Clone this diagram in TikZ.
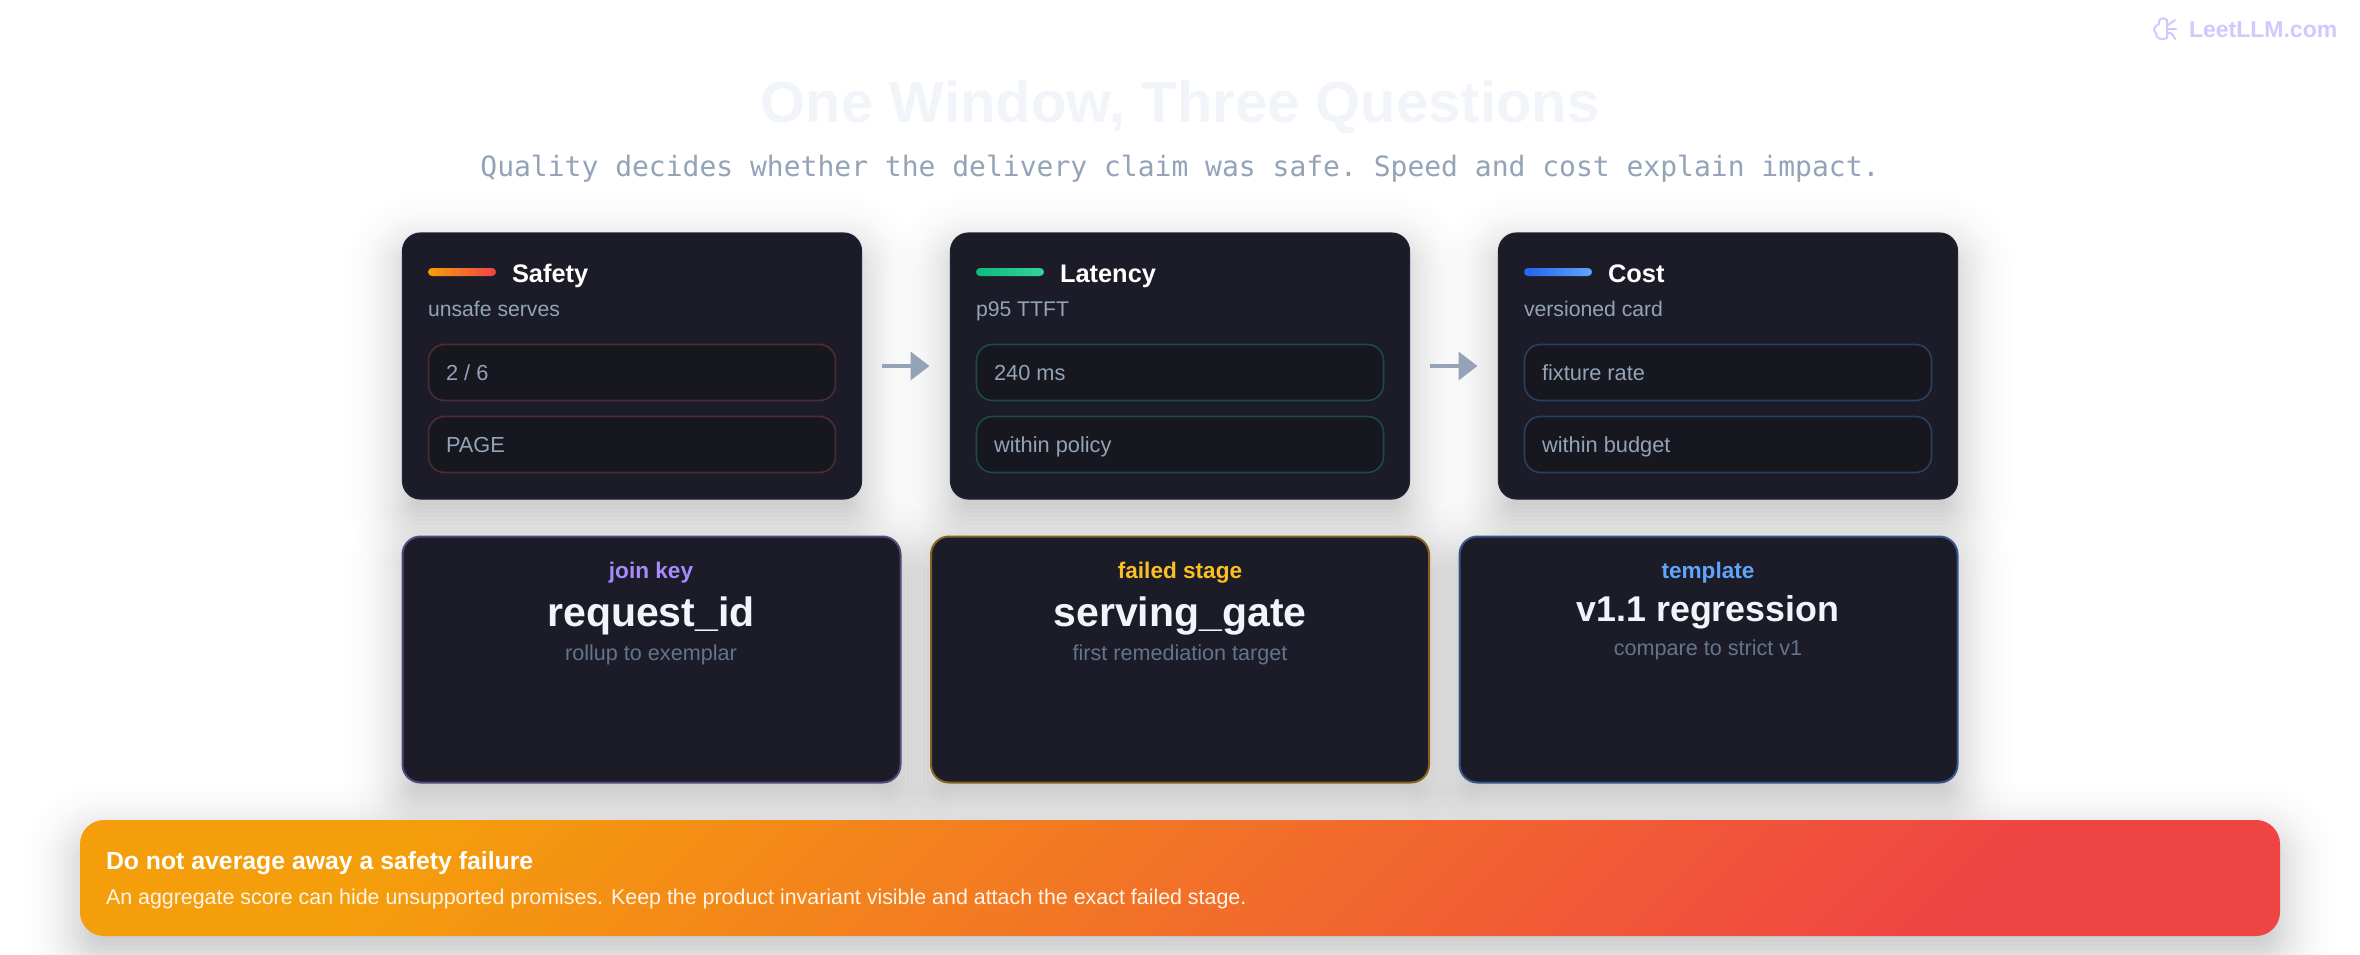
\documentclass[tikz,border=0pt]{standalone}
\usepackage{fontspec}
\setmainfont{Liberation Sans}
\setmonofont{DejaVu Sans Mono}
\usetikzlibrary{calc,backgrounds,arrows.meta}

\definecolor{cardbg}{HTML}{1B1C27}
\definecolor{cardline}{HTML}{1C2536}
\definecolor{pillbg}{HTML}{16171F}
\definecolor{muted}{HTML}{94A3B8}
\definecolor{dimmed}{HTML}{64748B}
\definecolor{titlegrey}{HTML}{F1F5F9}
\definecolor{logopurple}{HTML}{D2C8FE}
\definecolor{amber}{HTML}{F59E0B}
\definecolor{alarm}{HTML}{EF4444}
\definecolor{emerald}{HTML}{10B981}
\definecolor{mint}{HTML}{34D399}
\definecolor{royal}{HTML}{2563EB}
\definecolor{sky}{HTML}{60A5FA}
\definecolor{lilac}{HTML}{A78BFA}
\definecolor{gold}{HTML}{FBBF24}
\definecolor{redline}{HTML}{4F2C33}
\definecolor{greenline}{HTML}{1E4A42}
\definecolor{blueline}{HTML}{2A3F5F}
\definecolor{lilacline}{HTML}{55467F}
\definecolor{goldline}{HTML}{85631F}
\definecolor{skyline}{HTML}{36568A}

\newcommand{\softshadow}[2]{%
  \begin{pgfonlayer}{background}
  \foreach \g in {-68,-64,...,68}{
    \pgfmathsetmacro{\shr}{max(1,#2+\g/2)}
    \pgfmathsetmacro{\sho}{.0148*exp(-(\g/28)*(\g/28)/2)}
    \fill[black,opacity=\sho,rounded corners=\shr pt] ($(#1.north west)+(-\g,-\g+18)$) rectangle ($(#1.south east)+(\g,\g+18)$);
  }
  \end{pgfonlayer}}

\begin{document}
\begin{tikzpicture}[x=.5pt,y=-.5pt,>=Stealth]
\tikzset{
	metric card/.style={rectangle,draw=cardline,fill=cardbg,line width=.6pt,rounded corners=9pt,minimum width=229.5pt,minimum height=133pt,outer sep=0,inner sep=0},
	id card/.style={rectangle,fill=cardbg,line width=1pt,rounded corners=9pt,minimum width=249pt,minimum height=123pt,outer sep=0,inner sep=0},
	value pill/.style={rectangle,fill=pillbg,line width=.8pt,rounded corners=8pt,minimum width=203.5pt,minimum height=28pt,outer sep=0,inner sep=0},
	accent bar/.style={rectangle,rounded corners=2pt,minimum width=34pt,minimum height=4pt,outer sep=0,inner sep=0},
	plain text/.style={inner sep=0,outer sep=0,anchor=base west},
	mid text/.style={inner sep=0,outer sep=0,anchor=base},
	card title/.style={plain text,text=white,font=\fontsize{12.7}{14}\selectfont\bfseries},
	card note/.style={plain text,text=muted,font=\fontsize{10.6}{12}\selectfont},
	pill text/.style={plain text,text=muted,font=\fontsize{10.9}{12}\selectfont},
	id label/.style={mid text,font=\fontsize{11.3}{12}\selectfont\bfseries},
	id value/.style={mid text,text=titlegrey,font=\fontsize{20.5}{24}\selectfont\bfseries},
	id note/.style={mid text,text=dimmed,font=\fontsize{10.8}{12}\selectfont},
	flow arrow/.style={color=muted,line width=2pt,shorten <=10pt,shorten >=10.5pt,-{Triangle[length=9.5pt,width=14pt]}},
	logo stroke/.style={draw=logopurple,line width=1pt,line cap=round,line join=round}
}
\useasboundingbox (0,0) rectangle (2360,954);
\begin{pgfonlayer}{background}
  \fill[white] (0,0) rectangle (2360,954);
\end{pgfonlayer}

% header
\draw[logo stroke] (2167,20) .. controls (2161,16) and (2158,20) .. (2159,24) .. controls (2153,26) and (2153,32) .. (2156,33) .. controls (2155,38) and (2162,41) .. (2167,38) -- (2167,20);
\draw[logo stroke] (2168,25) -- (2175,20) (2167,29) -- (2176,29) (2168,33) .. controls (2172,33) .. (2175,39);
\node[plain text,text=logopurple,font=\fontsize{11.5}{12}\selectfont\bfseries] (logo) at (2189,37) {LeetLLM.com};
\node[mid text,text=titlegrey,font=\fontsize{29}{32}\selectfont\bfseries] (title) at (1180,122) {One Window, Three Questions};
\node[mid text,text=muted,font=\fontsize{14}{18}\selectfont\ttfamily] (subtitle) at (1180,176) {Quality decides whether the delivery claim was safe. Speed and cost explain impact.};

% top row
\begin{scope}[node distance=274pt]
\node[metric card] (safety) at (632,366) {};
\node[metric card] (latency) [right of=safety] {};
\node[metric card] (cost) [right of=latency] {};
\end{scope}
\softshadow{safety}{9}
\softshadow{latency}{9}
\softshadow{cost}{9}

\node[accent bar,left color=amber,right color=alarm] (safetybar) at (462,272) {};
\node[accent bar,left color=emerald,right color=mint] (latencybar) at (1010,272) {};
\node[accent bar,left color=royal,right color=sky] (costbar) at (1558,272) {};

\node[card title] (safetyname) at (512,282) {Safety};
\node[card title] (latencyname) at (1060,282) {Latency};
\node[card title] (costname) at (1608,282) {Cost};
\node[card note] (safetynote) at (428,316) {unsafe serves};
\node[card note] (latencynote) at (976,316) {p95 TTFT};
\node[card note] (costnote) at (1524,316) {versioned card};

\node[value pill,draw=redline] (s1) at (632,372.5) {};
\node[value pill,draw=redline] (s2) at (632,444.5) {};
\node[value pill,draw=greenline] (l1) at (1180,372.5) {};
\node[value pill,draw=greenline] (l2) at (1180,444.5) {};
\node[value pill,draw=blueline] (c1) at (1728,372.5) {};
\node[value pill,draw=blueline] (c2) at (1728,444.5) {};

\node[pill text] (s1text) at (446,380) {2 / 6};
\node[pill text] (s2text) at (446,452) {PAGE};
\node[pill text] (l1text) at (994,380) {240 ms};
\node[pill text] (l2text) at (994,452) {within policy};
\node[pill text] (c1text) at (1542,380) {fixture rate};
\node[pill text] (c2text) at (1542,452) {within budget};

\path[flow arrow] (safety) edge (latency)
                  (latency) edge (cost);

% bottom row
\begin{scope}[node distance=264.25pt]
\node[id card,draw=lilacline] (joinkey) at (651.5,659.5) {};
\node[id card,draw=goldline] (failed) [right of=joinkey] {};
\node[id card,draw=skyline] (template) [right of=failed] {};
\end{scope}
\softshadow{joinkey}{9}
\softshadow{failed}{9}
\softshadow{template}{9}

\node[id label,text=lilac] (joinlabel) at (651,578) {join key};
\node[id label,text=gold] (failedlabel) at (1180,578) {failed stage};
\node[id label,text=sky] (templatelabel) at (1708,578) {template};
\node[id value] (joinvalue) at (651,626) {request\_id};
\node[id value] (failedvalue) at (1180,626) {serving\_gate};
\node[id value,font=\fontsize{17.9}{24}\selectfont\bfseries] (templatevalue) at (1708,621) {v1.1 regression};
\node[id note] (joinnote) at (651,660) {rollup to exemplar};
\node[id note] (failednote) at (1180,660) {first remediation target};
\node[id note] (templatenote) at (1708,655) {compare to strict v1};

% banner
\node[rectangle,top color=amber,bottom color=alarm,shading angle=45,rounded corners=12pt,minimum width=1100pt,minimum height=58pt,outer sep=0,inner sep=0] (banner) at (1180,878) {};
\softshadow{banner}{12}
\node[plain text,text=white,font=\fontsize{12.4}{14}\selectfont\bfseries] (bannertitle) at (106,869) {Do not average away a safety failure};
\node[plain text,text=white!90!amber,font=\fontsize{10.7}{12}\selectfont] (bannernote) at (106,904) {An aggregate score can hide unsupported promises. Keep the product invariant visible and attach the exact failed stage.};
\end{tikzpicture}
\end{document}
